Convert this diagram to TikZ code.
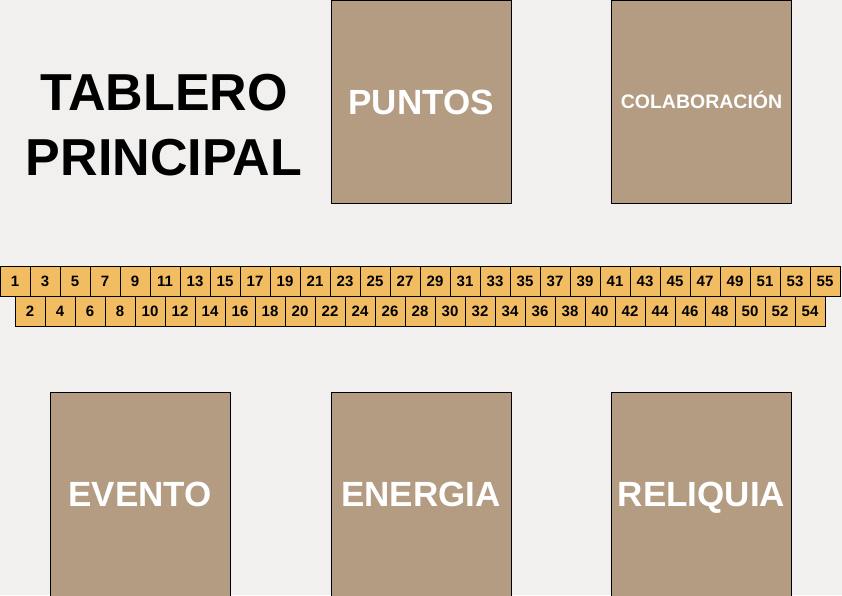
\documentclass[tikz,border=0pt]{standalone}
\usepackage{fontspec}
\setmainfont{Liberation Sans}
\usetikzlibrary{positioning}
\definecolor{fondo}{HTML}{F1F0EF}
\definecolor{carta}{HTML}{B39C82}
\definecolor{casilla}{HTML}{F2BC63}

\begin{document}
\begin{tikzpicture}[
    x=1pt, y=-1pt,
    mazo/.style={draw, line width=0.9pt, fill=carta, minimum width=180pt, minimum height=203pt, inner sep=0pt, text=white, text height=25pt, text depth=0pt, font=\fontsize{35}{38}\selectfont\bfseries},
    mazobajo/.style={mazo, minimum height=213pt, text depth=10pt},
    casillero/.style={draw, line width=0.8pt, fill=casilla, minimum width=30pt, minimum height=30pt, inner sep=0pt, text height=10.7pt, text depth=0pt, font=\fontsize{15}{16}\selectfont\bfseries},
    titulo/.style={align=center, inner sep=0pt, font=\fontsize{52}{65}\selectfont\bfseries},
]

% Background
\fill[fondo] (0,0) rectangle (842,595);
\useasboundingbox (0,0) rectangle (842,595);
\clip (0,0) rectangle (842,595);

% Title
\node[titulo] (title) at (164,125) {TABLERO\\PRINCIPAL};

% Top decks
\node[mazo] (puntos) at (421,101.5) {PUNTOS};
\node[mazo, text height=14pt, font=\fontsize{19.5}{21}\selectfont\bfseries] (colab) at (701.5,101.5) {COLABORACIÓN};

% Score track: odd numbers on top, even numbers below
\foreach \i in {0,...,27} {
  \pgfmathtruncatemacro{\n}{2*\i+1}
  \node[casillero] (c\n) at (15+30*\i,281) {\n};
}
\foreach \i in {0,...,26} {
  \pgfmathtruncatemacro{\n}{2*\i+2}
  \node[casillero] (c\n) at (30+30*\i,311) {\n};
}

% Bottom decks
\node[mazobajo] (evento) at (140,498.5) {EVENTO};
\node[mazobajo] (energia) at (421,498.5) {ENERGIA};
\node[mazobajo] (reliquia) at (701.5,498.5) {RELIQUIA};

\end{tikzpicture}
\end{document}
